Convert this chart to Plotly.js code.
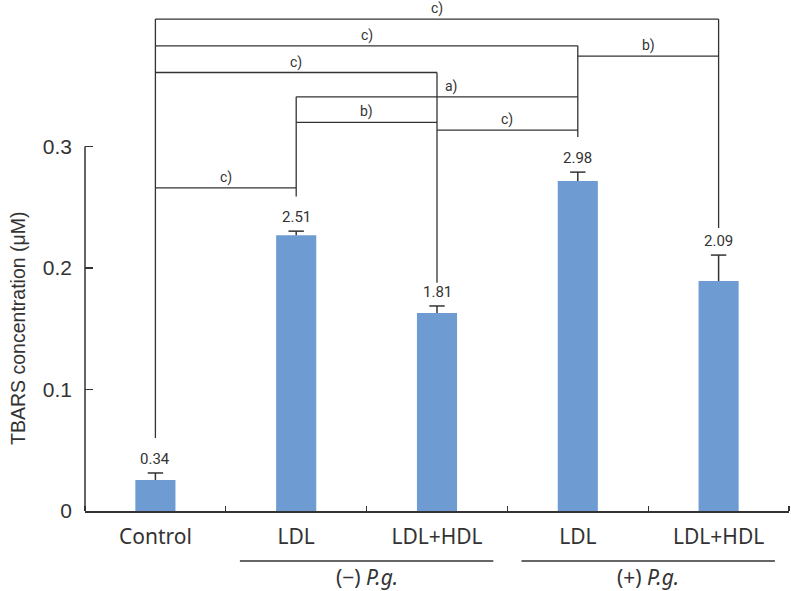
<!DOCTYPE html>
<html><head><meta charset="utf-8">
<script src="https://cdn.plot.ly/plotly-3.0.1.min.js"></script>
<style>body{margin:0;background:#fff}#chart{width:791px;height:591px}</style>
</head><body><div id="chart"></div>
<script>
const categories = ["Control", "LDL", "LDL+HDL", "LDL", "LDL+HDL"];
const tbars = [0.0255, 0.227, 0.163, 0.2716, 0.1893];
const errUp = [0.0058, 0.0034, 0.0058, 0.0074, 0.0214];
const valueLabels = ["0.34", "2.51", "1.81", "2.98", "2.09"];
const groupNames = ["(\u2212) <i>P.g.</i>", "(+) <i>P.g.</i>"];
const groupStart = [1, 3];
const groupEnd = [2, 4];
const bracketFrom = [0, 0, 3, 0, 1, 1, 2, 0];
const bracketTo = [4, 3, 4, 2, 3, 2, 3, 1];
const bracketHeight = [0.405, 0.383, 0.3745, 0.361, 0.341, 0.320, 0.3136, 0.266];
const bracketLabel = ["c)", "c)", "b)", "c)", "a)", "b)", "c)", "c)"];
const bracketLabelX = [2, 1.5, 3.5, 1, 2.1, 1.5, 2.5, 0.5];
const leaderBottom = [0.060, 0.259, 0.188, 0.308, 0.233];
const yTicks = [0, 0.1, 0.2, 0.3];
const yTitle = 'TBARS concentration (\u03bcM)';

const xIdx = categories.map((c, i) => i);
const ink = '#333333';
const barColor = '#6f9bd3';
const errTop = tbars.map((v, i) => v + errUp[i]);

const shapes = [];
const annotations = [];
// y axis line (0 to 0.3)
shapes.push({type: 'line', xref: 'paper', yref: 'y', x0: 0, x1: 0, y0: 0, y1: yTicks[yTicks.length - 1], line: {color: ink, width: 1.5}});
// brackets
bracketFrom.forEach((f, k) => {
  shapes.push({type: 'line', xref: 'x', yref: 'y', x0: f, x1: bracketTo[k], y0: bracketHeight[k], y1: bracketHeight[k], line: {color: ink, width: 1.3}});
  annotations.push({x: bracketLabelX[k], y: bracketHeight[k], xref: 'x', yref: 'y', text: bracketLabel[k], showarrow: false, yanchor: 'bottom', yshift: 0, font: {family: 'Roboto, sans-serif', size: 14, color: ink}});
});
// vertical leaders
xIdx.forEach(i => {
  let top = -1;
  bracketFrom.forEach((f, k) => { if (f === i || bracketTo[k] === i) top = Math.max(top, bracketHeight[k]); });
  shapes.push({type: 'line', xref: 'x', yref: 'y', x0: i, x1: i, y0: leaderBottom[i], y1: top, line: {color: ink, width: 1.3}});
  annotations.push({x: i, y: errTop[i], xref: 'x', yref: 'y', text: valueLabels[i], showarrow: false, yanchor: 'bottom', yshift: 3, font: {family: 'Roboto, sans-serif', size: 15, color: ink}});
});
// group lines and labels
groupNames.forEach((g, k) => {
  shapes.push({type: 'line', xref: 'x', yref: 'paper', x0: groupStart[k] - 0.4, x1: groupEnd[k] + 0.4, y0: -0.1004, y1: -0.1004, line: {color: ink, width: 1.3}});
  annotations.push({x: (groupStart[k] + groupEnd[k]) / 2, y: -0.1325, xref: 'x', yref: 'paper', text: g, showarrow: false, yanchor: 'middle', font: {family: 'Noto Sans, sans-serif', size: 21, color: ink}});
});
// y axis title centred on the 0 - 0.3 axis line
annotations.push({x: -0.095, y: yTicks[yTicks.length - 1] / 2, xref: 'paper', yref: 'y', text: yTitle, textangle: -90, showarrow: false, xanchor: 'center', yanchor: 'middle', font: {family: 'Liberation Sans, Arial, sans-serif', size: 19.5, color: ink}});

const bars = {
  type: 'bar', x: xIdx, y: tbars, width: 0.285,
  marker: {color: barColor}, hoverinfo: 'none'
};
// upward error bars: stem from bar top to error top, cap only at the top
const errs = {
  type: 'scatter', mode: 'markers', x: xIdx, y: errTop,
  marker: {symbol: 'line-ew-open', size: 11, color: ink, line: {color: ink, width: 1.5}},
  error_y: {type: 'data', symmetric: false, array: errUp.map(() => 0), arrayminus: errUp, color: ink, thickness: 1.5, width: 0},
  hoverinfo: 'none'
};

const layout = {
  width: 791, height: 591,
  margin: {l: 85, r: 2, t: 13, b: 80},
  paper_bgcolor: '#fff', plot_bgcolor: '#fff',
  showlegend: false,
  xaxis: {
    range: [-0.5, 4.5], tickvals: xIdx, ticktext: categories, ticks: '',
    showline: true, linecolor: ink, linewidth: 1.5, showgrid: false, zeroline: false,
    ticklabelstandoff: 6,
    tickfont: {family: 'Noto Sans, sans-serif', size: 21, color: ink},
    minor: {tick0: 0.5, dtick: 1, ticks: 'inside', ticklen: 5, tickwidth: 1.3, tickcolor: ink, showgrid: false}
  },
  yaxis: {
    range: [0, 0.41], tickvals: yTicks, ticktext: yTicks.map(v => v === 0 ? '0' : v.toFixed(1)),
    ticks: 'inside', ticklen: 8, tickwidth: 1.5, tickcolor: ink,
    showline: false, showgrid: false, zeroline: false,
    ticklabelstandoff: 12,
    tickfont: {family: 'Liberation Sans, Arial, sans-serif', size: 21, color: ink}
  },
  shapes: shapes,
  annotations: annotations
};

Plotly.newPlot('chart', [bars, errs], layout, {staticPlot: true, displayModeBar: false});
</script></body></html>
